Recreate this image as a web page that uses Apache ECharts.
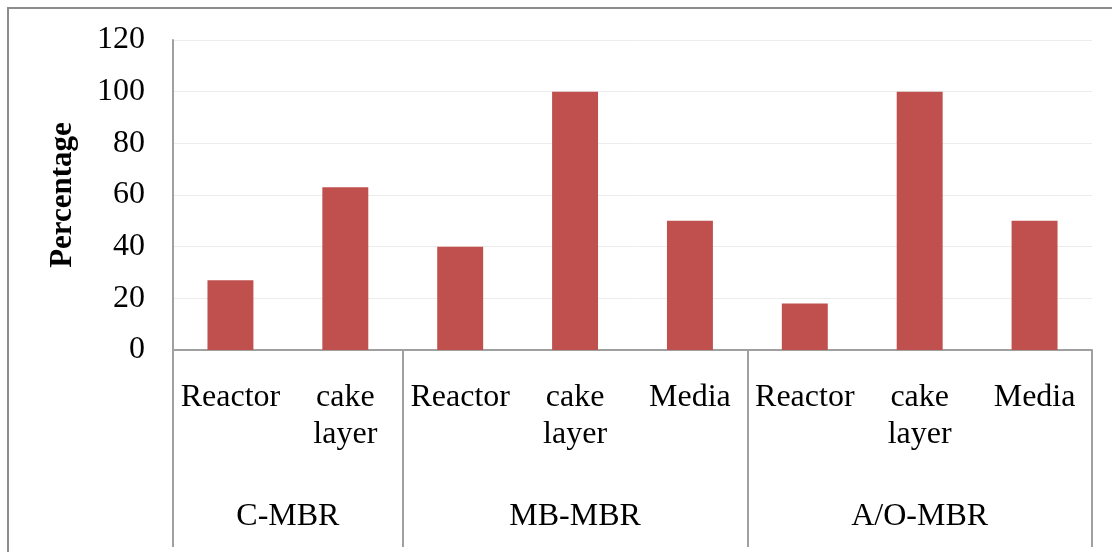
<!DOCTYPE html>
<html>
<head>
<meta charset="utf-8">
<script src="https://cdn.jsdelivr.net/npm/echarts@6/dist/echarts.min.js"></script>
<style>
html,body{margin:0;padding:0;background:#fff;overflow:hidden;}
#frame{position:absolute;left:7px;top:7px;width:2000px;height:2000px;border-left:2px solid #8c8c8c;border-top:2px solid #8c8c8c;}
#main{position:absolute;left:0;top:0;width:1112px;height:552px;}
</style>
</head>
<body>
<div id="frame"></div>
<div id="main"></div>
<script>
const categories = ['Reactor', 'cake layer', 'Reactor', 'cake layer', 'Media', 'Reactor', 'cake layer', 'Media'];
const values = [27, 63, 40, 100, 50, 18, 100, 50];
const groups = ['C-MBR', 'MB-MBR', 'A/O-MBR'];
const groupCenters = [1, 3.5, 6.5];
const groupBounds = [0, 2, 5, 8];
const yTicks = [0, 20, 40, 60, 80, 100, 120];

const font = 'Liberation Serif, Times New Roman, serif';
const chart = echarts.init(document.getElementById('main'), null, {renderer: 'canvas'});
chart.setOption({
  animation: false,
  grid: {left: 173, right: 20, top: 40, bottom: 202, containLabel: false},
  xAxis: [
    {
      type: 'category',
      data: categories,
      axisLine: {show: true, lineStyle: {color: '#a0a0a0', width: 2}},
      axisTick: {show: false},
      axisLabel: {
        interval: 0, margin: 29, fontFamily: font, fontSize: 32, color: '#000', lineHeight: 37,
        formatter: v => v.replace(' ', '\n')
      }
    },
    {
      type: 'value',
      position: 'bottom',
      min: groupBounds[0], max: groupBounds[groupBounds.length - 1],
      axisLine: {show: false},
      splitLine: {show: false},
      axisTick: {show: true, customValues: groupBounds, length: 197, lineStyle: {color: '#a0a0a0', width: 2}},
      axisLabel: {
        customValues: groupCenters, margin: 148, fontFamily: font, fontSize: 32, color: '#000', lineHeight: 37,
        formatter: v => groups[groupCenters.indexOf(v)]
      }
    }
  ],
  yAxis: {
    type: 'value',
    min: yTicks[0], max: yTicks[yTicks.length - 1], interval: 20,
    name: 'Percentage', nameLocation: 'middle', nameRotate: 90, nameGap: 95,
    nameTextStyle: {fontFamily: font, fontSize: 31, fontWeight: 'bold', color: '#000'},
    axisLine: {show: true, lineStyle: {color: '#a0a0a0', width: 2}},
    axisTick: {show: false},
    splitLine: {show: true, lineStyle: {color: '#ececec', width: 1}},
    axisLabel: {margin: 28, fontFamily: font, fontSize: 32, color: '#000'}
  },
  series: [{
    type: 'bar',
    data: values,
    barWidth: '40%',
    itemStyle: {color: '#C0504D'}
  }]
});
</script>
</body>
</html>
